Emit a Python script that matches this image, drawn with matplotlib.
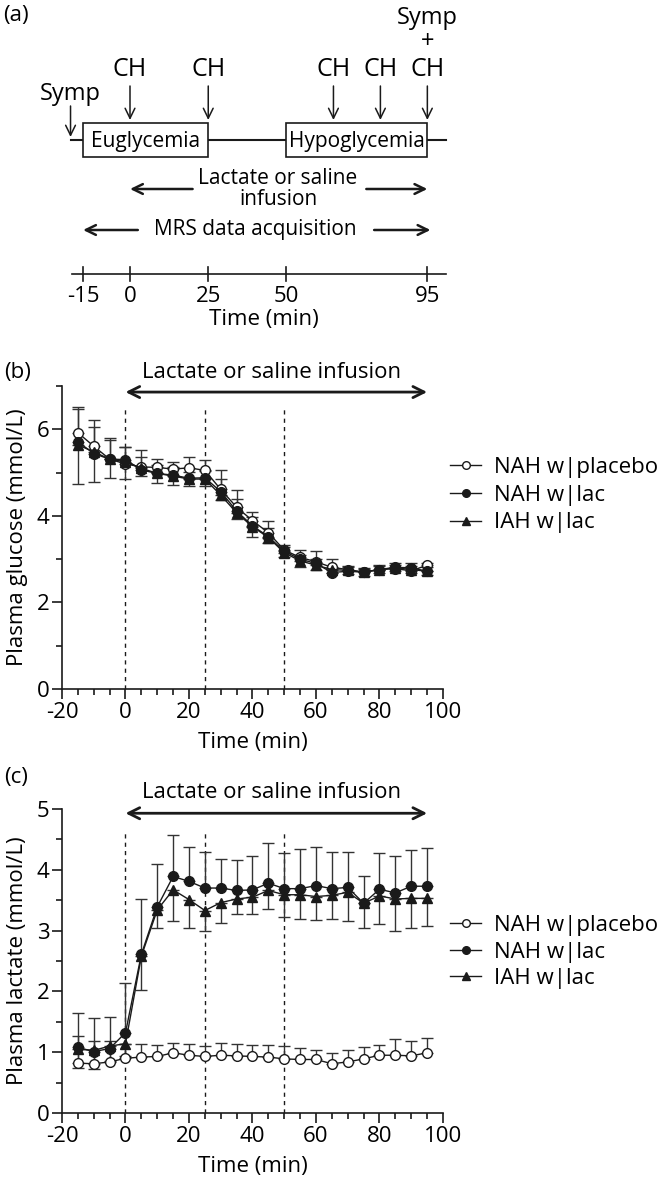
import matplotlib
matplotlib.use("Agg")
import matplotlib.pyplot as plt
from matplotlib.patches import Rectangle
from matplotlib.lines import Line2D
from matplotlib.ticker import MultipleLocator

plt.rcParams['font.family'] = ['Open Sans', 'DejaVu Sans']
plt.rcParams['font.size'] = 16
plt.rcParams['axes.unicode_minus'] = False

# ---------------- data ----------------
t = [-15, -10, -5, 0, 5, 10, 15, 20, 25, 30, 35, 40, 45, 50,
     55, 60, 65, 70, 75, 80, 85, 90, 95]
labels = ['NAH w|placebo', 'NAH w|lac', 'IAH w|lac']

# panel b, plasma glucose (mmol/L)
glu_plac = [5.92, 5.61, 5.31, 5.20, 5.13, 5.12, 5.08, 5.11, 5.05, 4.61, 4.20, 3.89, 3.61, 3.21,
            3.04, 2.94, 2.81, 2.76, 2.70, 2.76, 2.78, 2.73, 2.86]
glu_plac_up = [0.60, 0.60, 0.48, 0.38, 0.40, 0.20, 0.17, 0.26, 0.23, 0.46, 0.40, 0.21, 0.26, 0.11,
               0.17, 0.24, 0.19, 0.08, 0.08, 0.08, 0.08, 0.12, 0.06]
glu_nah = [5.71, 5.44, 5.31, 5.30, 5.06, 4.98, 4.94, 4.87, 4.88, 4.56, 4.11, 3.77, 3.52, 3.18,
           3.00, 2.90, 2.69, 2.72, 2.70, 2.76, 2.81, 2.80, 2.72]
glu_nah_up = [0.77, 0.62, 0.45, 0.28, 0.30, 0.20, 0.20, 0.15, 0.15, 0.30, 0.27, 0.20, 0.20, 0.10,
              0.10, 0.10, 0.10, 0.10, 0.10, 0.10, 0.10, 0.10, 0.10]
glu_iah = [5.64, 5.48, 5.31, 5.25, 5.10, 4.98, 4.92, 4.85, 4.85, 4.48, 4.07, 3.75, 3.50, 3.15,
           2.96, 2.86, 2.76, 2.74, 2.70, 2.76, 2.80, 2.76, 2.72]
glu_iah_lo = [0.91, 0.69, 0.44, 0.41, 0.18, 0.21, 0.21, 0.16, 0.16, 0.11, 0.15, 0.23, 0.12, 0.10,
              0.14, 0.10, 0.08, 0.08, 0.08, 0.08, 0.08, 0.08, 0.08]

# panel c, plasma lactate (mmol/L)
lac_plac = [0.82, 0.81, 0.84, 0.90, 0.92, 0.93, 0.99, 0.95, 0.93, 0.95, 0.94, 0.93, 0.92, 0.89,
            0.88, 0.88, 0.81, 0.84, 0.89, 0.95, 0.95, 0.94, 0.99]
lac_plac_up = [0.44, 0.38, 0.34, 0.24, 0.22, 0.19, 0.16, 0.19, 0.17, 0.20, 0.20, 0.19, 0.20, 0.21,
               0.19, 0.16, 0.17, 0.20, 0.20, 0.17, 0.27, 0.25, 0.24]
lac_nah = [1.08, 1.01, 1.06, 1.32, 2.61, 3.39, 3.89, 3.81, 3.70, 3.70, 3.66, 3.67, 3.78, 3.69,
           3.69, 3.74, 3.69, 3.71, 3.45, 3.68, 3.62, 3.73, 3.73]
lac_nah_up = [0.56, 0.55, 0.52, 0.81, 0.91, 0.71, 0.69, 0.57, 0.60, 0.48, 0.50, 0.55, 0.66, 0.58,
              0.66, 0.64, 0.61, 0.59, 0.44, 0.59, 0.61, 0.60, 0.63]
lac_iah = [1.05, 1.03, 1.10, 1.14, 2.58, 3.34, 3.67, 3.51, 3.33, 3.46, 3.52, 3.55, 3.66, 3.59,
           3.59, 3.56, 3.58, 3.63, 3.45, 3.57, 3.52, 3.53, 3.53]
lac_iah_lo = [0.31, 0.30, 0.25, 0.20, 0.55, 0.30, 0.52, 0.46, 0.33, 0.34, 0.24, 0.27, 0.30, 0.37,
              0.40, 0.38, 0.39, 0.47, 0.40, 0.46, 0.52, 0.49, 0.45]

# panel a, protocol timeline (min)
timeline_ticks = [-15, 0, 25, 50, 95]
ch_times = [0, 25, 65, 80, 95]
symp_time = -19
eugly = (-15, 25)
hypo = (50, 95)
infusion = (0, 95)
mrs = (-15, 95)
markers_at = [0, 25, 50]

W, H = 660, 1184
fig = plt.figure(figsize=(W / 100, H / 100), dpi=100)

ink = '#1a1a1a'

# ================= panel (a) =================
axa = fig.add_axes([0, 1 - 330 / H, 1, 330 / H])
axa.set_xlim((0 - 130) / 3.13, (W - 130) / 3.13)
axa.set_ylim(330, 0)
axa.axis('off')

arr = dict(arrowstyle='->,head_length=0.45,head_width=0.22', lw=1.1, color=ink, shrinkA=0, shrinkB=0)

axa.plot([symp_time, 101], [140, 140], color=ink, lw=1.5, zorder=1)
for (a, b), name in [(eugly, 'Euglycemia'), (hypo, 'Hypoglycemia')]:
    axa.add_patch(Rectangle((a, 123), b - a, 34, facecolor='white', edgecolor=ink, lw=1.2, zorder=2))
    axa.text((a + b) / 2, 141, name, ha='center', va='center', fontsize=15, zorder=3)

for c in ch_times:
    axa.annotate('', xy=(c, 120), xytext=(c, 86), arrowprops=arr)
    axa.text(c, 70, 'CH', ha='center', va='center', fontsize=18)
axa.text(ch_times[-1], 18, 'Symp', ha='center', va='center', fontsize=17)
axa.text(ch_times[-1], 42, '+', ha='center', va='center', fontsize=17)

axa.annotate('', xy=(symp_time, 137), xytext=(symp_time, 106), arrowprops=arr)
axa.text(symp_time, 94, 'Symp', ha='center', va='center', fontsize=17)

arr2 = dict(arrowstyle='->,head_length=0.45,head_width=0.22', lw=1.8, color=ink, shrinkA=0, shrinkB=0)
axa.annotate('', xy=(infusion[0], 189), xytext=(20, 189), arrowprops=arr2)
axa.annotate('', xy=(infusion[1], 189), xytext=(75.5, 189), arrowprops=arr2)
axa.text(47.3, 189, 'Lactate or saline\ninfusion', ha='center', va='center', fontsize=15,
         linespacing=1.0)
axa.annotate('', xy=(mrs[0], 230), xytext=(2.5, 230), arrowprops=arr2)
axa.annotate('', xy=(mrs[1] + 1, 230), xytext=(78, 230), arrowprops=arr2)
axa.text(40, 230, 'MRS data acquisition', ha='center', va='center', fontsize=15)

axa.plot([-18.5, 101], [274, 274], color=ink, lw=1.2)
for tk in timeline_ticks:
    axa.plot([tk, tk], [267, 281], color=ink, lw=1.2)
    axa.text(tk, 296, str(tk), ha='center', va='center', fontsize=16)
axa.text(42.7, 319, 'Time (min)', ha='center', va='center', fontsize=16)
axa.text(-40.5, 16, '(a)', ha='left', va='center', fontsize=16)

styles = [dict(marker='o', mfc='white'), dict(marker='o', mfc=ink), dict(marker='^', mfc=ink)]
handles = [Line2D([], [], color=ink, lw=1, ms=5.5, mec=ink, **st) for st in styles]


# ================= panels (b) and (c) =================
def draw_panel(ax, ys, errs, ylim, ymaj, ymin, ylabel, arrow_y, text_y, dash_top):
    ax.set_xlim(-20, 100)
    ax.set_ylim(*ylim)
    ax.vlines(markers_at, 0, dash_top, colors=ink, linestyles=(0, (3, 3)), lw=1)
    for y, e, st in zip(ys, errs, styles):
        ax.errorbar(t, y, yerr=e, color=ink, ecolor='#333333', lw=1, elinewidth=1,
                    capsize=4, capthick=1, ms=7, mec=ink, mew=1, **st)
    for s in ['top', 'right']:
        ax.spines[s].set_visible(False)
    for s in ['left', 'bottom']:
        ax.spines[s].set_linewidth(1.2)
        ax.spines[s].set_color(ink)
    ax.xaxis.set_major_locator(MultipleLocator(20))
    ax.xaxis.set_minor_locator(MultipleLocator(5))
    ax.yaxis.set_major_locator(MultipleLocator(ymaj))
    ax.yaxis.set_minor_locator(MultipleLocator(ymin))
    ax.tick_params(which='major', length=7, width=1.2, color=ink, labelsize=16, pad=2)
    ax.tick_params(which='minor', length=4, width=1.2, color=ink)
    ax.set_xlabel('Time (min)', fontsize=16, labelpad=7)
    ax.set_ylabel(ylabel, fontsize=16, labelpad=6)
    ax.annotate('', xy=(infusion[0], arrow_y), xytext=(infusion[1], arrow_y),
                arrowprops=dict(arrowstyle='<->,head_length=0.5,head_width=0.25', lw=2,
                                color=ink, shrinkA=0, shrinkB=0))
    ax.text(46, text_y, 'Lactate or saline infusion', ha='center', va='center',
            fontsize=16, clip_on=False)


axb = fig.add_axes([62 / W, 1 - 689 / H, (443 - 62) / W, (689 - 386) / H])
draw_panel(axb, [glu_plac, glu_nah, glu_iah],
           [[[0] * len(t), glu_plac_up], [[0] * len(t), glu_nah_up], [glu_iah_lo, [0] * len(t)]],
           (0, 7), 2, 1, 'Plasma glucose (mmol/L)', 6.86, 7.32, 6.53)
axb.legend(handles, labels, loc='upper left', bbox_to_anchor=(450 / W, 1 - 457 / H),
           bbox_transform=fig.transFigure, frameon=False, fontsize=16, handlelength=1.4,
           handletextpad=0.6, labelspacing=0.3, borderpad=0, borderaxespad=0)
fig.text(4 / W, 1 - 372 / H, '(b)', ha='left', va='center', fontsize=16)

axc = fig.add_axes([62 / W, 1 - 1113 / H, (443 - 62) / W, (1113 - 809) / H])
draw_panel(axc, [lac_plac, lac_nah, lac_iah],
           [[[0] * len(t), lac_plac_up], [[0] * len(t), lac_nah_up], [lac_iah_lo, [0] * len(t)]],
           (0, 5), 1, 0.5, 'Plasma lactate (mmol/L)', 4.93, 5.27, 4.66)
axc.legend(handles, labels, loc='upper left', bbox_to_anchor=(450 / W, 1 - 915 / H),
           bbox_transform=fig.transFigure, frameon=False, fontsize=16, handlelength=1.4,
           handletextpad=0.6, labelspacing=0.25, borderpad=0, borderaxespad=0)
fig.text(4 / W, 1 - 778 / H, '(c)', ha='left', va='center', fontsize=16)

fig.savefig('out.png', dpi=100)
